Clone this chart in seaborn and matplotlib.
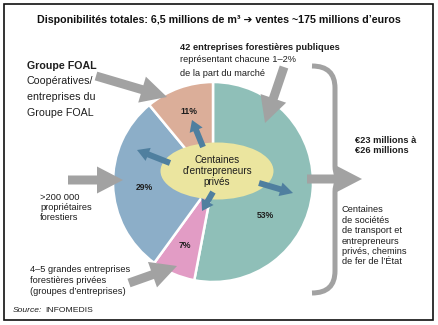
import matplotlib
matplotlib.use("Agg")
import matplotlib.pyplot as plt
import seaborn as sns
from matplotlib.patches import Ellipse, FancyArrow, PathPatch, Rectangle
from matplotlib.path import Path

# Market shares of the timber supply segments (clockwise from the top)
segments = ["Entreprises forestières publiques", "Grandes entreprises privées",
            "Propriétaires forestiers", "Groupe FOAL"]
shares = [53, 7, 29, 11]
palette = sns.color_palette(["#8fbfb8", "#e29cc5", "#8caec8", "#dbae99"])

title = "Disponibilités totales: 6,5 millions de m³ \u2794 ventes ~175 millions d\u2019euros"
foal_lines = ["Groupe FOAL", "Coopératives/", "entreprises du", "Groupe FOAL"]
public_lines = ["42 entreprises forestières publiques",
                "représentant chacune 1\u20132%", "de la part du marché"]
owners_lines = [">200 000", "propriétaires", "forestiers"]
large_lines = ["4\u20135 grandes entreprises", "forestières privées",
               "(groupes d\u2019entreprises)"]
centre_text = "Centaines\nd\u2019entrepreneurs\nprivés"
value_text = "€23 millions à\n€26 millions"
transport_text = ("Centaines\nde sociétés\nde transport et\nentrepreneurs\n"
                  "privés, chemins\nde fer de l\u2019État")

sns.set_theme(style="white")
plt.rcParams["font.family"] = ["Liberation Sans", "DejaVu Sans"]

TXT = "#1e1e1e"
GREY = "#a2a2a2"
STEEL = "#4f7f9f"
FS = 6.7

fig = plt.figure(figsize=(4.39, 3.25), dpi=100)
ax = fig.add_axes([0, 0, 1, 1])

# pie drawn in a pixel-like coordinate system with y pointing down
ax.pie(shares, colors=palette, startangle=-90, counterclock=True,
       center=(213, 182), radius=100,
       wedgeprops=dict(edgecolor="white", linewidth=1.8))
ax.set_xlim(0, 439)
ax.set_ylim(325, 0)
ax.set_aspect("equal")
ax.axis("off")

# outer frame
ax.add_patch(Rectangle((4, 4), 429, 316, fill=False, edgecolor="#111111", lw=1.2))

ax.text(219, 20, title, ha="center", va="center", fontsize=7.65,
        fontweight="bold", color="#111111")

# central ellipse
ax.add_patch(Ellipse((217, 171), 113, 57, facecolor="#ebe59f", edgecolor="none", zorder=3))
ax.text(217, 171, centre_text, ha="center", va="center", fontsize=7.2,
        color=TXT, linespacing=1.15, zorder=4)

# percentage labels
label_pos = [(265, 216), (185, 246), (144, 187), (189, 112)]
for v, (x, y) in zip(shares, label_pos):
    ax.text(x, y, f"{v}%", ha="center", va="center", fontsize=6.2,
            fontweight="bold", color=TXT, zorder=4)


def fat_arrow(x0, y0, x1, y1, w, hw, hl, color, z=5):
    ax.add_patch(FancyArrow(x0, y0, x1 - x0, y1 - y0, width=w, head_width=hw,
                            head_length=hl, length_includes_head=True,
                            facecolor=color, edgecolor="none", zorder=z))


# arrows from the central ellipse into the slices
fat_arrow(203, 147, 192, 120, 6, 14, 11, STEEL)
fat_arrow(170, 163, 137, 150, 6, 14, 12, STEEL)
fat_arrow(213, 192, 202, 211, 6, 14, 11, STEEL)
fat_arrow(259, 183, 293, 193, 6, 14, 13, STEEL)

# grey arrows from the labels
fat_arrow(96, 76, 167, 97, 9, 27, 26, GREY)
fat_arrow(284, 67, 265, 123, 9, 27, 26, GREY)
fat_arrow(68, 180, 123, 180, 9, 27, 26, GREY)
fat_arrow(129, 283, 177, 266, 9, 27, 26, GREY)

# curly brace on the right
verts = [(312, 66), (335, 66), (335, 88),
         (335, 166),
         (335, 179), (343, 179),
         (335, 179), (335, 192),
         (335, 271),
         (335, 293), (312, 293)]
codes = [Path.MOVETO, Path.CURVE3, Path.CURVE3,
         Path.LINETO,
         Path.CURVE3, Path.CURVE3,
         Path.CURVE3, Path.CURVE3,
         Path.LINETO,
         Path.CURVE3, Path.CURVE3]
ax.add_patch(PathPatch(Path(verts, codes), facecolor="none", edgecolor=GREY,
                       lw=3.6, capstyle="butt", zorder=5))
fat_arrow(307, 179, 362, 179, 9, 28, 27, GREY)

# text labels
y = 66
for i, line in enumerate(foal_lines):
    ax.text(27, y, line, ha="left", va="center", fontsize=7.7,
            fontweight="bold" if i == 0 else "normal", color=TXT)
    y += 15.5

for i, line in enumerate(public_lines):
    ax.text(180, 47 + 13 * i, line, ha="left", va="center", fontsize=FS,
            fontweight="bold" if i == 0 else "normal", color=TXT)

for i, line in enumerate(owners_lines):
    ax.text(40, 197 + 10.5 * i, line, ha="left", va="center", fontsize=FS, color=TXT)

for i, line in enumerate(large_lines):
    ax.text(30, 269 + 11.5 * i, line, ha="left", va="center", fontsize=FS, color=TXT)

ax.text(355, 145.5, value_text, ha="left", va="center", fontsize=FS,
        fontweight="bold", color=TXT, linespacing=1.2)
ax.text(342, 236, transport_text, ha="left", va="center", fontsize=FS,
        color=TXT, linespacing=1.2)

ax.text(13, 310, "Source:", ha="left", va="center", fontsize=6.1,
        style="italic", color=TXT)
ax.text(45, 310, "INFOMEDIS", ha="left", va="center", fontsize=6.1, color=TXT)

fig.savefig("out.png", dpi=100)
